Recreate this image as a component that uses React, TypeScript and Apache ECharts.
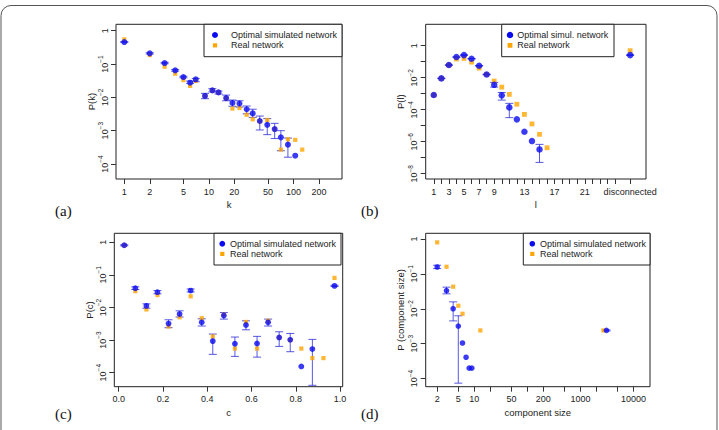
import React, { useEffect, useRef } from "react";
import * as echarts from "echarts";

// (a) degree distribution P(k)
const degreeK = [1, 2, 3, 4, 5, 6, 7, 9, 11, 13, 16, 19, 23, 28, 33, 40, 49, 60, 71, 86, 105];
const degreeOptimal = [0.457, 0.209, 0.107, 0.0646, 0.0407, 0.0275, 0.0347, 0.011, 0.0162, 0.0141, 0.0095, 0.0068, 0.0065, 0.0044, 0.0033, 0.00195, 0.0015, 0.00112, 0.00063, 0.00038, 0.000178];
const degreeOptimalLow = [0.44, 0.2, 0.102, 0.061, 0.0385, 0.0263, 0.0295, 0.0091, 0.0145, 0.0126, 0.0079, 0.0054, 0.0051, 0.0032, 0.0025, 0.00105, 0.00076, 0.00058, 0.00025, 0.00016, null];
const degreeOptimalHigh = [0.475, 0.218, 0.112, 0.068, 0.043, 0.0309, 0.037, 0.0132, 0.0182, 0.0155, 0.0117, 0.0083, 0.0079, 0.0055, 0.0044, 0.00275, 0.0023, 0.00166, 0.001, 0.0006, null];
const degreeRealK = [1, 2, 3, 4, 5, 6, 7, 9, 11, 13, 16, 19, 23, 28, 33, 40, 49, 60, 71, 86, 105, 127];
const degreeReal = [0.55, 0.186, 0.083, 0.051, 0.033, 0.022, 0.031, 0.011, 0.016, 0.014, 0.0093, 0.0046, 0.0048, 0.003, 0.0022, 0.0019, 0.0021, 0.0011, 0.00027, 0.00055, 0.00053, 0.00027];
const degreeTicks = [1, 2, 5, 10, 20, 50, 100, 200];

// (b) shortest path length P(l); 27 stands for "disconnected"
const pathL = [1, 2, 3, 4, 5, 6, 7, 8, 9, 10, 11, 12, 13, 14, 15, 27];
const pathOptimal = [8.3e-4, 9.1e-3, 0.062, 0.196, 0.26, 0.154, 0.056, 0.016, 3.6e-3, 7.9e-4, 1.4e-4, 2.5e-5, 4.2e-6, 1.1e-6, 3.3e-7, 0.26];
const pathOptimalLow = [null, 8.8e-3, 0.06, 0.19, 0.25, 0.148, 0.054, 0.0154, 2.6e-3, 4e-4, 3.2e-5, null, null, null, 5.1e-8, 0.245];
const pathOptimalHigh = [null, 9.4e-3, 0.064, 0.203, 0.27, 0.16, 0.058, 0.0166, 5.1e-3, 1.2e-3, 2.5e-4, null, null, null, 6.8e-7, 0.275];
const pathRealL = [1, 2, 3, 4, 5, 6, 7, 8, 9, 10, 11, 12, 13, 14, 15, 16, 27];
const pathReal = [8.3e-4, 9.1e-3, 0.062, 0.148, 0.16, 0.095, 0.04, 0.016, 6.2e-3, 2.6e-3, 9.1e-4, 2.2e-4, 5.1e-5, 1.3e-5, 2.9e-6, 4.2e-7, 0.49];
const pathTicks = [1, 2, 3, 4, 5, 6, 7, 8, 9, 10, 11, 12, 13, 14, 15, 16, 17, 18, 19, 20, 21, 22, 23, 24, 25, 27];
const pathLabels = [1, 3, 5, 7, 9, 13, 17, 21, 27];
const DISCONNECTED = 27;

// (c) clustering coefficient P(c)
const clusterC = [0.025, 0.075, 0.125, 0.175, 0.225, 0.275, 0.325, 0.375, 0.425, 0.475, 0.525, 0.575, 0.625, 0.675, 0.725, 0.775, 0.825, 0.875, 0.975];
const clusterOptimal = [0.81, 0.039, 0.0112, 0.0295, 0.0032, 0.0063, 0.033, 0.0035, 9.3e-4, 0.0057, 7.7e-4, 0.0029, 7.9e-4, 0.0035, 0.0012, 0.00102, 1.56e-4, 5.3e-4, 0.046];
const clusterOptimalLow = [0.78, 0.0356, 0.0095, 0.0263, 0.0024, 0.0051, 0.03, 0.0027, 3.65e-4, 0.0044, 3.16e-4, 0.00207, 3.0e-4, 0.0027, 6.4e-4, 4.4e-4, null, 4.1e-5, 0.044];
const clusterOptimalHigh = [0.84, 0.043, 0.0129, 0.033, 0.0042, 0.0079, 0.037, 0.0045, 0.00153, 0.007, 0.00124, 0.0039, 0.0013, 0.0044, 0.0018, 0.0016, null, 0.00105, 0.048];
const clusterRealC = [0.025, 0.075, 0.125, 0.175, 0.225, 0.275, 0.325, 0.375, 0.425, 0.475, 0.525, 0.575, 0.625, 0.675, 0.725, 0.775, 0.825, 0.875, 0.925, 0.975];
const clusterReal = [0.81, 0.0316, 0.0087, 0.024, 0.0026, 0.005, 0.022, 0.0047, 0.0013, 0.006, 5.5e-4, 0.0036, 5.5e-4, 0.0039, 0.0012, 0.001, 5.5e-4, 2.8e-4, 2.8e-4, 0.081];
const clusterTicks = [0, 0.2, 0.4, 0.6, 0.8, 1.0];

// (d) component size distribution
const compSize = [2, 3, 4, 5, 6, 7, 8, 9, 3090];
const compOptimal = [0.158, 0.033, 0.01, 0.0032, 0.00105, 4.1e-4, 2e-4, 2e-4, 0.0024];
const compOptimalLow = [0.142, 0.0268, 0.0045, 7.4e-5, null, null, null, null, 0.00232];
const compOptimalHigh = [0.177, 0.0417, 0.0158, 0.0063, null, null, null, null, 0.00248];
const compRealSize = [2, 3, 4, 5, 6, 13, 2700];
const compReal = [0.8, 0.16, 0.043, 0.0122, 0.0072, 0.0024, 0.0024];
const compTicks = [2, 5, 10, 20, 50, 100, 200, 500, 1000, 2000, 5000, 10000];
const compLabels = [2, 5, 10, 50, 200, 1000, 10000];

const FONT = '"Liberation Sans", Arial, Helvetica, sans-serif';
const SERIF = '"Liberation Serif", "Times New Roman", serif';
const BLUE = "#0a0af0";
const ORANGE = "#ffa500";
const ERR = "rgba(25,25,215,0.72)";
const INK = "#222";
const L = Math.log10;

const supLabel = (v: number) => {
  const e = Math.round(v);
  return e === 0 ? "{b|1}" : `{b|10}{s|\u2212${Math.abs(e)}}`;
};

type Panel = {
  grid: { left: number; top: number; width: number; height: number };
  xLog: boolean;
  xMin: number;
  xMax: number;
  yMin: number;
  yMax: number;
  xTicks: number[];
  xLabels: number[];
  xFormat: (v: number) => string;
  yTicks: number[];
  yLabels: number[];
  xName: string;
  yName: string;
  optX: number[];
  optY: number[];
  optLow: (number | null)[];
  optHigh: (number | null)[];
  realX: number[];
  realY: number[];
  dot: number;
  square: number;
  legend: { x: number; y: number; w: number; h: number; mx: number; tx: number; first: string };
  tag: { text: string; x: number; y: number };
};

const logFmt = (v: number) => String(Math.round(Math.pow(10, v)));

const panels: Panel[] = [
  {
    grid: { left: 116, top: 24.3, width: 226, height: 154.7 },
    xLog: true, xMin: -0.098, xMax: 2.574, yMin: -4.45, yMax: 0.192,
    xTicks: degreeTicks, xLabels: degreeTicks, xFormat: logFmt,
    yTicks: [0, -1, -2, -3, -4], yLabels: [0, -1, -2, -3, -4],
    xName: "k", yName: "P(k)",
    optX: degreeK, optY: degreeOptimal, optLow: degreeOptimalLow, optHigh: degreeOptimalHigh,
    realX: degreeRealK, realY: degreeReal, dot: 6, square: 4.2,
    legend: { x: 204, y: 24.3, w: 138, h: 32.4, mx: 215, tx: 231, first: "Optimal simulated network" },
    tag: { text: "(a)", x: 55, y: 211 },
  },
  {
    grid: { left: 425.7, top: 24.3, width: 220.3, height: 154.7 },
    xLog: false, xMin: -0.07, xMax: 29.1, yMin: -8.33, yMax: 1.34,
    xTicks: pathTicks, xLabels: pathLabels,
    xFormat: (v: number) => (Math.round(v) === DISCONNECTED ? "disconnected" : String(Math.round(v))),
    yTicks: [0, -1, -2, -3, -4, -5, -6, -7, -8], yLabels: [0, -2, -4, -6, -8],
    xName: "l", yName: "P(l)",
    optX: pathL, optY: pathOptimal, optLow: pathOptimalLow, optHigh: pathOptimalHigh,
    realX: pathRealL, realY: pathReal, dot: 6.5, square: 4.8,
    legend: { x: 501.7, y: 24.3, w: 112.3, h: 32.4, mx: 510, tx: 517.3, first: "Optimal simul. network" },
    tag: { text: "(b)", x: 361, y: 211 },
  },
  {
    grid: { left: 114.3, top: 233.3, width: 228.4, height: 153.4 },
    xLog: false, xMin: -0.02, xMax: 1.012, yMin: -4.43, yMax: 0.276,
    xTicks: clusterTicks, xLabels: clusterTicks, xFormat: (v: number) => v.toFixed(1),
    yTicks: [0, -1, -2, -3, -4], yLabels: [0, -1, -2, -3, -4],
    xName: "c", yName: "P(c)",
    optX: clusterC, optY: clusterOptimal, optLow: clusterOptimalLow, optHigh: clusterOptimalHigh,
    realX: clusterRealC, realY: clusterReal, dot: 5.8, square: 4.2,
    legend: { x: 214, y: 233.3, w: 127, h: 31.7, mx: 222.3, tx: 230, first: "Optimal simulated network" },
    tag: { text: "(c)", x: 55, y: 414 },
  },
  {
    grid: { left: 425.7, top: 233.3, width: 224.3, height: 153.4 },
    xLog: true, xMin: 0.085, xMax: 4.309, yMin: -4.232, yMax: 0.163,
    xTicks: compTicks, xLabels: compLabels, xFormat: logFmt,
    yTicks: [0, -1, -2, -3, -4], yLabels: [0, -1, -2, -3, -4],
    xName: "component size", yName: "P (component size)",
    optX: compSize, optY: compOptimal, optLow: compOptimalLow, optHigh: compOptimalHigh,
    realX: compRealSize, realY: compReal, dot: 5.6, square: 4.2,
    legend: { x: 523.3, y: 233.3, w: 126.7, h: 31.7, mx: 532.3, tx: 540, first: "Optimal simulated network" },
    tag: { text: "(d)", x: 361, y: 414 },
  },
];

function buildOption() {
  const grids: any[] = [];
  const xAxes: any[] = [];
  const yAxes: any[] = [];
  const series: any[] = [];
  const graphic: any[] = [];

  panels.forEach((p, i) => {
    const tx = (v: number) => (p.xLog ? L(v) : v);
    grids.push({ ...p.grid, show: true, borderColor: "#222", borderWidth: 1, backgroundColor: "transparent" });

    xAxes.push({
      type: "value",
      gridIndex: i,
      min: p.xMin,
      max: p.xMax,
      axisLine: { show: false, onZero: false },
      splitLine: { show: false },
      axisTick: { show: true, inside: false, length: 5, lineStyle: { color: "#333" }, customValues: p.xTicks.map(tx) },
      axisLabel: {
        show: true,
        margin: 8,
        color: INK,
        fontSize: 9,
        fontFamily: FONT,
        customValues: p.xLabels.map(tx),
        formatter: (v: number) => p.xFormat(v),
      },
      name: p.xName,
      nameLocation: "middle",
      nameGap: i < 2 ? 20 : 21,
      nameTextStyle: { color: INK, fontSize: 9.5, fontFamily: FONT },
    });

    yAxes.push({
      type: "value",
      gridIndex: i,
      min: p.yMin,
      max: p.yMax,
      axisLine: { show: false, onZero: false },
      splitLine: { show: false },
      axisTick: { show: true, inside: false, length: 5, lineStyle: { color: "#333" }, customValues: p.yTicks },
      axisLabel: {
        show: true,
        rotate: 90,
        margin: 7,
        color: INK,
        fontFamily: FONT,
        customValues: p.yLabels,
        formatter: (v: number) => supLabel(v),
        rich: {
          b: { fontSize: 9, fontFamily: FONT, color: INK, lineHeight: 12, verticalAlign: "bottom" },
          s: { fontSize: 6.5, fontFamily: FONT, color: INK, lineHeight: 12, verticalAlign: "top" },
        },
      },
      name: p.yName,
      nameLocation: "middle",
      nameGap: 14,
      nameTextStyle: { color: INK, fontSize: 9.5, fontFamily: FONT },
    });

    series.push({
      type: "scatter",
      name: "Real network",
      xAxisIndex: i,
      yAxisIndex: i,
      symbol: "rect",
      symbolSize: p.square,
      itemStyle: { color: ORANGE },
      silent: true,
      data: p.realX.map((x, j) => [tx(x), L(p.realY[j])]),
    });
    series.push({
      type: "scatter",
      name: p.legend.first,
      xAxisIndex: i,
      yAxisIndex: i,
      symbol: "circle",
      symbolSize: p.dot,
      itemStyle: { color: BLUE },
      silent: true,
      data: p.optX.map((x, j) => [tx(x), L(p.optY[j])]),
    });

    const bars: number[][] = [];
    p.optX.forEach((x, j) => {
      const lo = p.optLow[j];
      const hi = p.optHigh[j];
      if (lo != null && hi != null) bars.push([tx(x), L(lo), L(hi)]);
    });
    series.push({
      type: "custom",
      name: "error",
      xAxisIndex: i,
      yAxisIndex: i,
      silent: true,
      encode: { x: 0, y: [1, 2] },
      data: bars,
      renderItem: (_params: any, api: any) => {
        const top = api.coord([api.value(0), api.value(2)]);
        const bot = api.coord([api.value(0), api.value(1)]);
        const w = 4;
        const st = { stroke: ERR, lineWidth: 1, fill: "none" };
        return {
          type: "group",
          children: [
            { type: "line", shape: { x1: top[0], y1: top[1], x2: bot[0], y2: bot[1] }, style: st },
            { type: "line", shape: { x1: top[0] - w, y1: top[1], x2: top[0] + w, y2: top[1] }, style: st },
            { type: "line", shape: { x1: bot[0] - w, y1: bot[1], x2: bot[0] + w, y2: bot[1] }, style: st },
          ],
        };
      },
    });

    // legend box
    const lg = p.legend;
    const row1 = lg.y + lg.h * 0.33;
    const row2 = lg.y + lg.h * 0.65;
    graphic.push(
      { type: "rect", silent: true, shape: { x: lg.x, y: lg.y, width: lg.w, height: lg.h }, style: { fill: "#fff", stroke: "#222", lineWidth: 1 } },
      { type: "circle", silent: true, shape: { cx: lg.mx, cy: row1, r: p.dot / 2 }, style: { fill: BLUE } },
      { type: "rect", silent: true, shape: { x: lg.mx - p.square / 2, y: row2 - p.square / 2, width: p.square, height: p.square }, style: { fill: ORANGE } },
      { type: "text", silent: true, x: lg.tx, y: row1, style: { text: lg.first, fontSize: 9, fontFamily: FONT, fill: INK, verticalAlign: "middle" } },
      { type: "text", silent: true, x: lg.tx, y: row2, style: { text: "Real network", fontSize: 9, fontFamily: FONT, fill: INK, verticalAlign: "middle" } },
      { type: "text", silent: true, x: p.tag.x, y: p.tag.y, style: { text: p.tag.text, fontSize: 15, fontFamily: SERIF, fill: "#111", verticalAlign: "middle" } }
    );
  });

  // rounded frame around the figure
  graphic.push({
    type: "rect",
    silent: true,
    z: -10,
    shape: { x: 1, y: 5.5, width: 716, height: 440, r: 10 },
    style: { fill: "none", stroke: "#555", lineWidth: 1 },
  });

  return {
    animation: false,
    backgroundColor: "#fff",
    textStyle: { fontFamily: FONT },
    grid: grids,
    xAxis: xAxes,
    yAxis: yAxes,
    series,
    graphic,
  };
}

export default function App() {
  const ref = useRef<HTMLDivElement>(null);
  useEffect(() => {
    if (!ref.current) return;
    const chart = echarts.init(ref.current, null, { renderer: "svg" });
    chart.setOption(buildOption() as any);
    return () => chart.dispose();
  }, []);
  return (
    <div
      ref={ref}
      style={{ position: "absolute", left: 0, top: 0, width: 719, height: 430 }}
    />
  );
}
